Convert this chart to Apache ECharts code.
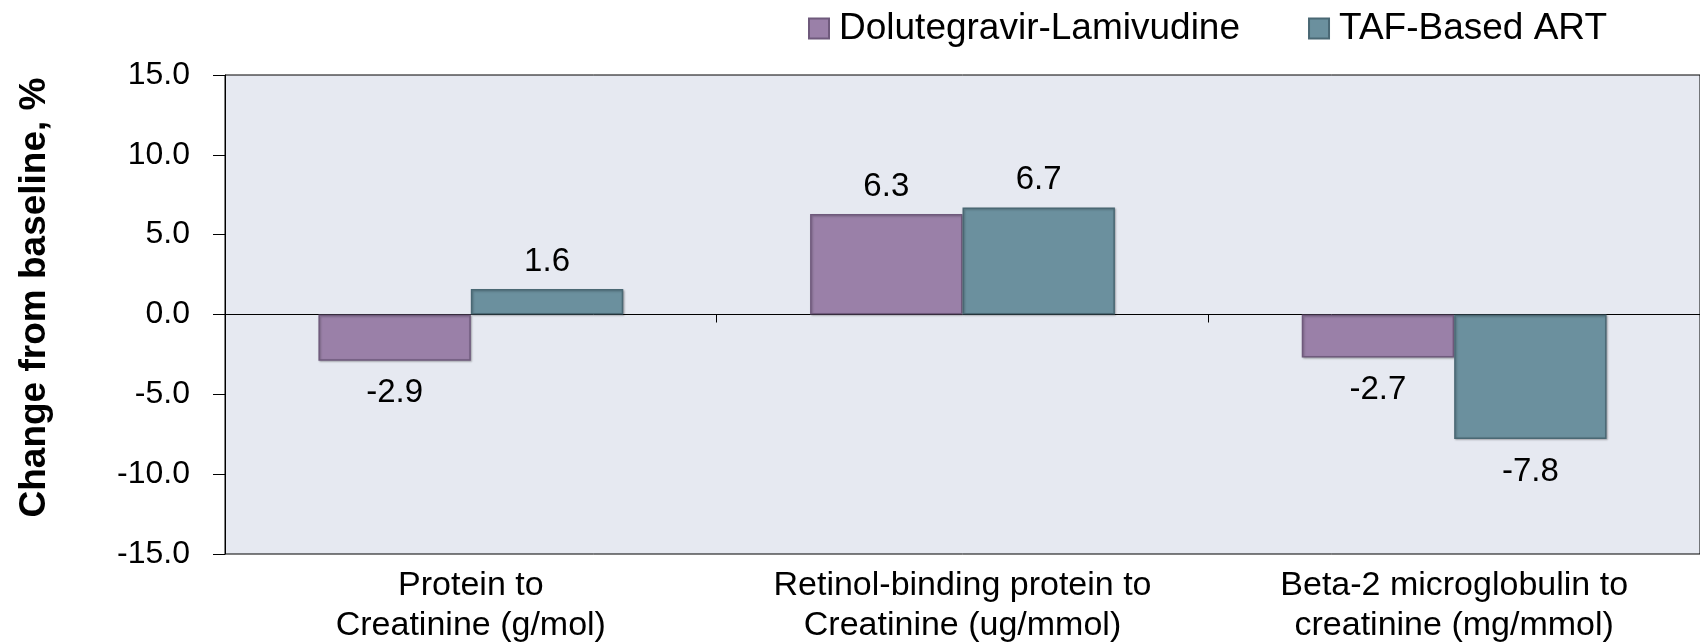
<!DOCTYPE html>
<html>
<head>
<meta charset="utf-8">
<script src="https://cdn.jsdelivr.net/npm/echarts@6/dist/echarts.min.js"></script>
<style>
  html, body { margin: 0; padding: 0; background: #fff; }
  #chart { width: 1700px; height: 644px; }
</style>
</head>
<body>
<div id="chart"></div>
<script>
const categories = [
  'Protein to\nCreatinine (g/mol)',
  'Retinol-binding protein to\nCreatinine (ug/mmol)',
  'Beta-2 microglobulin to\ncreatinine (mg/mmol)'
]
const seriesNames = ['Dolutegravir-Lamivudine', 'TAF-Based ART']
const dtgValues = [-2.9, 6.3, -2.7]
const tafValues = [1.6, 6.7, -7.8]

const colors = ['#9a80a8', '#6b909e']
const borders = ['#6f5a7c', '#4a6874']

const font = 'Arial, "Liberation Sans", sans-serif'

// negative bars get their label underneath
const withLabels = (vals) => vals.map(v => ({
  value: v,
  label: v < 0 ? { position: 'bottom', distance: 16 } : { position: 'top', distance: 11 }
}))

const makeSeries = (i, vals) => ({
  name: seriesNames[i],
  type: 'bar',
  xAxisIndex: 0,
  barGap: 0,
  barCategoryGap: '38%',
  data: withLabels(vals),
  itemStyle: {
    color: colors[i],
    borderColor: borders[i],
    borderWidth: 1.5,
    shadowColor: 'rgba(0,0,0,0.25)',
    shadowBlur: 2,
    shadowOffsetX: 1,
    shadowOffsetY: 1
  },
  label: {
    show: true,
    fontFamily: font,
    fontSize: 33,
    color: '#000',
    formatter: p => p.value.toFixed(1)
  }
})

const chart = echarts.init(document.getElementById('chart'))
chart.setOption({
  animation: false,
  textStyle: { fontFamily: font },
  legend: {
    data: seriesNames,
    top: 5,
    right: 88,
    icon: 'rect',
    itemWidth: 20,
    itemHeight: 20,
    itemGap: 68,
    textStyle: { fontSize: 37, color: '#000', padding: [0, 0, 0, 5] }
  },
  grid: {
    left: 225,
    right: 0,
    top: 75,
    bottom: 90,
    outerBoundsMode: 'none',
    show: true,
    backgroundColor: '#e6e9f1',
    borderColor: '#000',
    borderWidth: 1
  },
  xAxis: [
    {
      type: 'category',
      data: categories,
      position: 'bottom',
      axisLine: { show: false, onZero: false },
      axisTick: { show: false },
      axisLabel: {
        fontSize: 34,
        lineHeight: 40,
        color: '#000',
        margin: 12,
        interval: 0
      }
    },
    {
      type: 'category',
      data: categories,
      position: 'top',
      axisLine: { show: true, onZero: true, lineStyle: { color: '#000', width: 1 } },
      axisTick: { show: true, inside: true, length: 8, lineStyle: { color: '#000' } },
      axisLabel: { show: false }
    }
  ],
  yAxis: {
    type: 'value',
    min: -15,
    max: 15,
    interval: 5,
    name: 'Change from baseline, %',
    nameLocation: 'middle',
    nameGap: 172,
    nameTextStyle: { fontSize: 37, fontWeight: 'bold', color: '#000', padding: [0, 0, 0, 34] },
    axisLine: { show: true, lineStyle: { color: '#000' } },
    axisTick: { show: true, length: 12, lineStyle: { color: '#000' } },
    splitLine: { show: false },
    axisLabel: {
      fontSize: 32,
      color: '#000',
      margin: 35,
      formatter: v => v.toFixed(1)
    }
  },
  series: [makeSeries(0, dtgValues), makeSeries(1, tafValues)]
})
</script>
</body>
</html>
